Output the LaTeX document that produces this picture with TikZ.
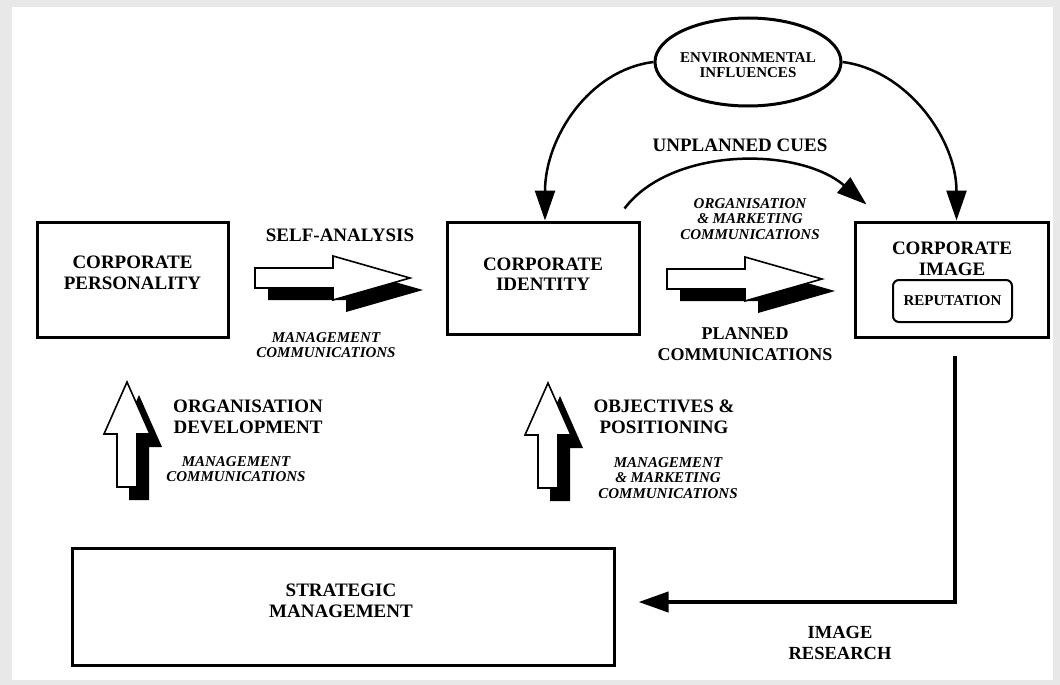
\documentclass[tikz,border=0pt]{standalone}
\usepackage{fontspec}
\setmainfont{Liberation Serif}
\usetikzlibrary{shapes.geometric,arrows.meta,calc}
\begin{document}
\begin{tikzpicture}[x=1pt,y=-1pt,
  box/.style={draw,line width=3pt,inner sep=0pt},
  lbl/.style={font=\bfseries\fontsize{19}{20.5}\selectfont,align=center,inner sep=0pt},
  ilbl/.style={font=\bfseries\itshape\fontsize{15}{15.5}\selectfont,align=center,inner sep=0pt},
  slbl/.style={font=\bfseries\fontsize{15}{14.5}\selectfont,align=center,inner sep=0pt},
  curved/.style={line width=2.5pt,-{Triangle[width=20pt,length=30pt]}},
  feedback/.style={line width=4pt,-{Triangle[width=20pt,length=30pt]}},
  blockarrow/.style={draw=black,fill=white,line width=1.6pt,line join=miter},
  hblock/.pic={
    \fill[black,shift={(13,12)}] (0,-10) -- (78,-10) -- (78,-22) -- (155,0) -- (78,22) -- (78,10) -- (0,10) -- cycle;
    \draw[blockarrow] (0,-10) -- (78,-10) -- (78,-22) -- (155,0) -- (78,22) -- (78,10) -- (0,10) -- cycle;
  },
  vblock/.pic={
    \fill[black,shift={(12,13)}] (-10,0) -- (-10,-53) -- (-23,-53) -- (0,-105) -- (23,-53) -- (10,-53) -- (10,0) -- cycle;
    \draw[blockarrow] (-10,0) -- (-10,-53) -- (-23,-53) -- (0,-105) -- (23,-53) -- (10,-53) -- (10,0) -- cycle;
  },
]
% background frame
\fill[gray!18] (0,0) rectangle (1060,685);
\fill[white] (12,7) rectangle (1053,680);
\useasboundingbox (0,0) rectangle (1060,685);

% boxes
\node[box,minimum width=191pt,minimum height=115pt] (pers) at (132.5,279.5) {};
\node[lbl] (perst) at (132.5,273) {CORPORATE\\PERSONALITY};

\node[box,minimum width=192pt,minimum height=112pt] (ident) at (543,278) {};
\node[lbl] (identt) at (543,274) {CORPORATE\\IDENTITY};

\node[box,minimum width=193pt,minimum height=115pt] (img) at (951.5,279.5) {};
\node[lbl] (imgt) at (952,259) {CORPORATE\\IMAGE};
\node[draw,line width=2pt,rounded corners=6pt,minimum width=119pt,minimum height=42pt,inner sep=0pt,
      font=\bfseries\fontsize{15}{15}\selectfont] (rep) at (952.5,301) {REPUTATION};

\node[box,minimum width=542pt,minimum height=117pt] (strat) at (343,606.5) {};
\node[lbl] (stratt) at (341,601) {STRATEGIC\\MANAGEMENT};

\node[ellipse,draw,line width=3pt,minimum width=186pt,minimum height=88pt,inner sep=0pt] (env) at (748,62) {};
\node[slbl] (envt) at (748,65) {ENVIRONMENTAL\\INFLUENCES};

% block arrows
\pic at (255,278) {hblock};
\pic at (667,279) {hblock};
\pic at (127,487) {vblock};
\pic at (548,488) {vblock};

% labels
\node[lbl] (selfan) at (340,235) {SELF-ANALYSIS};
\node[ilbl] (mc1) at (326,345) {MANAGEMENT\\COMMUNICATIONS};
\node[ilbl] (omc) at (750,219) {ORGANISATION\\\& MARKETING\\COMMUNICATIONS};
\node[lbl,font=\bfseries\fontsize{18}{20.5}\selectfont] (plan) at (745,344) {PLANNED\\COMMUNICATIONS};
\node[lbl] (uc) at (740,145) {UNPLANNED CUES};
\node[lbl] (od) at (248,417) {ORGANISATION\\DEVELOPMENT};
\node[ilbl] (mc2) at (236,469) {MANAGEMENT\\COMMUNICATIONS};
\node[lbl] (obj) at (664,417) {OBJECTIVES \&\\POSITIONING};
\node[ilbl] (mmc) at (668,478) {MANAGEMENT\\\& MARKETING\\COMMUNICATIONS};
\node[lbl,font=\bfseries\fontsize{18.5}{20.5}\selectfont] (ir) at (840,643) {IMAGE\\RESEARCH};

% connectors
\draw[curved] (env.west) .. controls +(-65,8) and +(0,-82) .. ($(ident.north)+(2,0)$);
\draw[curved] (env.east) .. controls +(64,8) and +(0,-82) .. ($(img.north)+(5,0)$);
\draw[curved] ($(ident.north east)+(-16,-12)$) .. controls +(47,-62) and +(-68,-58) .. ($(img.north west)+(13,-16)$);
\draw[feedback] ($(img.south)+(3.5,17)$) |- ($(strat.east)+(23,-4.5)$);
\end{tikzpicture}
\end{document}
